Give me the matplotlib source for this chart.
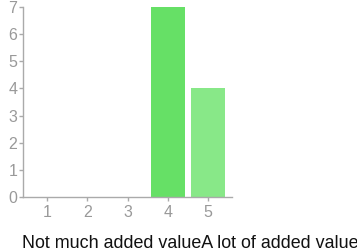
import matplotlib
matplotlib.use("Agg")
import matplotlib.pyplot as plt

plt.rcParams["font.family"] = ["Liberation Sans", "DejaVu Sans"]

# rating scale and response counts
ratings = [1, 2, 3, 4, 5]
counts = [0, 0, 0, 7, 4]
bar_colors = ["#66e066", "#66e066", "#66e066", "#66e066", "#88e888"]
y_ticks = [0, 1, 2, 3, 4, 5, 6, 7]
caption = "Not much added valueA lot of added value"

fig = plt.figure(figsize=(3.57, 2.5), dpi=100)
ax = fig.add_axes([23 / 357, 0.212, 209 / 357, 0.76])

ax.bar(ratings, counts, width=0.84, color=bar_colors, edgecolor="none")

ax.set_xlim(0.41, 5.59)
ax.set_ylim(0, 7)
ax.set_xticks(ratings)
ax.set_yticks(y_ticks)

for side in ("top", "right"):
    ax.spines[side].set_visible(False)
for side in ("left", "bottom"):
    ax.spines[side].set_color("#aaaaaa")
    ax.spines[side].set_linewidth(1)

ax.tick_params(colors="#aaaaaa", labelcolor="#999999", labelsize=11.5,
               length=3, width=1)
ax.tick_params(axis="y", pad=1)
ax.tick_params(axis="x", pad=3)

fig.text(22 / 357, 1 - 243 / 250, caption, fontsize=12.9, color="#111111",
         ha="left", va="center")

fig.savefig("out.png", dpi=100)
